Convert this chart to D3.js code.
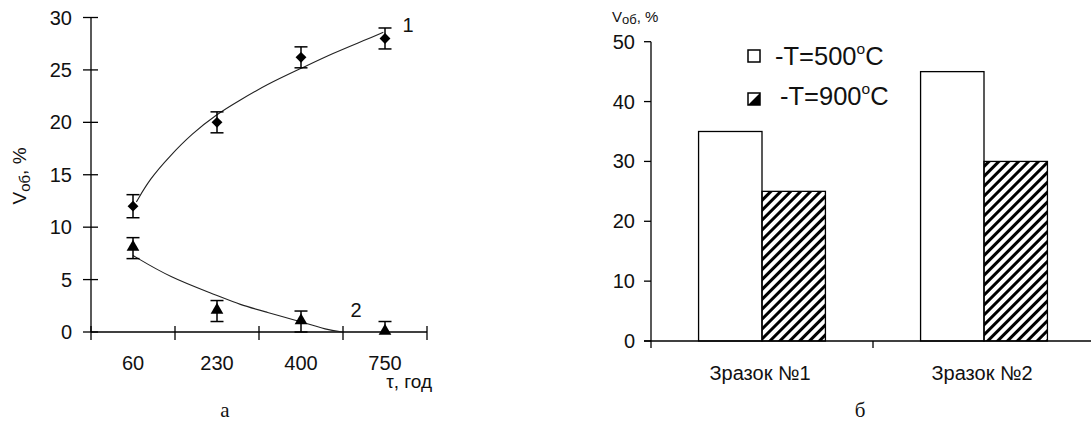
<!DOCTYPE html>
<html>
<head>
<meta charset="utf-8">
<script src="https://cdn.jsdelivr.net/npm/d3@7"></script>
<style>
  html, body { margin: 0; padding: 0; background: #fff; }
  svg { display: block; }
  text { font-family: Arial, "Liberation Sans", sans-serif; fill: #111; }
  .serif { font-family: "Times New Roman", "Liberation Serif", serif; }
</style>
</head>
<body>
<svg id="chart" width="1091" height="426"></svg>
<script>
// ---- Panel (a): volume vs. time ----
const timeLabels = ["60", "230", "400", "750"];
const series1 = [12, 20, 26.2, 28];
const series1Err = [1.1, 1, 1, 1];
const series2 = [8, 2, 1, 0];
const series2Err = [1, 1, 1, 1];
// trend curves (x given as category position, 0 = "60")
const curve1Pos = [0.04, 0.2, 0.44, 0.7, 1.0, 1.27, 1.59, 1.99, 2.38, 2.78, 2.98];
const curve1Val = [12.4, 14.6, 16.8, 18.9, 20.8, 22.1, 23.6, 25.1, 26.6, 27.9, 28.6];
const curve2Pos = [0.0, 0.44, 1.0, 1.27, 1.59, 1.99, 2.31, 2.49];
const curve2Val = [7.3, 5.2, 3.5, 2.6, 1.9, 1.0, 0.2, 0.0];
const leftYTicks = [0, 5, 10, 15, 20, 25, 30];

// ---- Panel (b): volume by sample and temperature ----
const samples = ["Зразок №1", "Зразок №2"];
const temps = ["-T=500", "-T=900"];
const values500 = [35, 45];
const values900 = [25, 30];
const rightYTicks = [0, 10, 20, 30, 40, 50];

const svg = d3.select("#chart");
const defs = svg.append("defs");
defs.append("pattern")
  .attr("id", "hatch")
  .attr("patternUnits", "userSpaceOnUse")
  .attr("width", 7).attr("height", 7)
  .attr("patternTransform", "rotate(45)")
  .append("rect")
  .attr("x", 0).attr("y", 0).attr("width", 3).attr("height", 7)
  .attr("fill", "#000");

// ===================== Panel (a) =====================
const xA = d3.scaleLinear().domain([-0.5, 3.5]).range([91, 427]);
const yA = d3.scaleLinear().domain([0, 30]).range([332, 17.5]);
const gA = svg.append("g");

// axes
gA.append("line").attr("x1", xA(-0.5)).attr("x2", xA(-0.5))
  .attr("y1", yA(30)).attr("y2", yA(0)).attr("stroke", "#000").attr("stroke-width", 1.3);
gA.append("line").attr("x1", xA(-0.5)).attr("x2", xA(3.5))
  .attr("y1", yA(0)).attr("y2", yA(0)).attr("stroke", "#000").attr("stroke-width", 1.3);

gA.selectAll(".ytick").data(leftYTicks).enter().append("line")
  .attr("x1", xA(-0.5) - 8).attr("x2", xA(-0.5) + 7)
  .attr("y1", d => yA(d)).attr("y2", d => yA(d))
  .attr("stroke", "#000").attr("stroke-width", 1.3);
gA.selectAll(".ylab").data(leftYTicks).enter().append("text")
  .attr("x", 72).attr("y", d => yA(d) + 7)
  .attr("text-anchor", "end").attr("font-size", 20)
  .text(d => d);

const xTickPos = [-0.5, 0.5, 1.5, 2.5, 3.5];
gA.selectAll(".xtick").data(xTickPos).enter().append("line")
  .attr("x1", d => xA(d)).attr("x2", d => xA(d))
  .attr("y1", yA(0) - 6).attr("y2", yA(0) + 8)
  .attr("stroke", "#000").attr("stroke-width", 1.3);
gA.selectAll(".xlab").data(timeLabels).enter().append("text")
  .attr("x", (d, i) => xA(i)).attr("y", 370)
  .attr("text-anchor", "middle").attr("font-size", 20)
  .text(d => d);

gA.append("text").attr("x", 432).attr("y", 388).attr("text-anchor", "end")
  .attr("font-size", 19).text("τ, год");

const yTitle = gA.append("text")
  .attr("transform", "translate(26,176) rotate(-90)")
  .attr("text-anchor", "middle").attr("font-size", 19);
yTitle.append("tspan").text("V");
yTitle.append("tspan").attr("font-size", 15).attr("dy", 4).text("об");
yTitle.append("tspan").attr("dy", -4).text(", %");

// trend curves
const lineGen = d3.line().curve(d3.curveBasis)
  .x(d => xA(d[0])).y(d => yA(d[1]));
gA.append("path").attr("d", lineGen(d3.zip(curve1Pos, curve1Val)))
  .attr("fill", "none").attr("stroke", "#222").attr("stroke-width", 1.1);
gA.append("path").attr("d", lineGen(d3.zip(curve2Pos, curve2Val)))
  .attr("fill", "none").attr("stroke", "#222").attr("stroke-width", 1.1);

// error bars
function errorBars(vals, errs) {
  const g = gA.append("g").attr("stroke", "#000").attr("stroke-width", 1.5);
  vals.forEach((v, i) => {
    const lo = Math.max(0, v - errs[i]), hi = v + errs[i];
    const cx = xA(i);
    g.append("line").attr("x1", cx).attr("x2", cx).attr("y1", yA(hi)).attr("y2", yA(lo));
    g.append("line").attr("x1", cx - 6.5).attr("x2", cx + 6.5).attr("y1", yA(hi)).attr("y2", yA(hi));
    if (v - errs[i] >= 0)
      g.append("line").attr("x1", cx - 6.5).attr("x2", cx + 6.5).attr("y1", yA(lo)).attr("y2", yA(lo));
  });
}
errorBars(series1, series1Err);
errorBars(series2, series2Err);

// markers
gA.selectAll(".dia").data(series1).enter().append("path")
  .attr("d", d3.symbol(d3.symbolDiamond2, 75))
  .attr("transform", (d, i) => `translate(${xA(i)},${yA(d)})`)
  .attr("fill", "#000");
gA.selectAll(".tri").data(series2).enter().append("path")
  .attr("d", d3.symbol(d3.symbolTriangle, 70))
  .attr("transform", (d, i) => `translate(${xA(i)},${yA(d) - 1})`)
  .attr("fill", "#000");

gA.append("text").attr("x", 408).attr("y", 32).attr("text-anchor", "middle")
  .attr("font-size", 20).text("1");
gA.append("text").attr("x", 356).attr("y", 317).attr("text-anchor", "middle")
  .attr("font-size", 20).text("2");

svg.append("text").attr("class", "serif").attr("x", 225).attr("y", 417)
  .attr("text-anchor", "middle").attr("font-size", 21).text("а");

// ===================== Panel (b) =====================
const x0 = d3.scaleBand().domain(samples).range([651, 1095]);
const x1 = d3.scaleBand().domain(temps).range([0, x0.bandwidth()]).paddingOuter(0.75);
const yB = d3.scaleLinear().domain([0, 50]).range([341, 41.7]);
const gB = svg.append("g");

const barData = samples.flatMap((s, i) => [
  { s, t: temps[0], v: values500[i] },
  { s, t: temps[1], v: values900[i] }
]);
gB.selectAll(".bar").data(barData).enter().append("rect")
  .attr("x", d => x0(d.s) + x1(d.t))
  .attr("y", d => yB(d.v))
  .attr("width", x1.bandwidth())
  .attr("height", d => yB(0) - yB(d.v))
  .attr("fill", d => d.t === temps[0] ? "#fff" : "url(#hatch)")
  .attr("stroke", "#000").attr("stroke-width", 1.3);

// axes
gB.append("line").attr("x1", 651).attr("x2", 651)
  .attr("y1", yB(50)).attr("y2", yB(0) + 7).attr("stroke", "#000").attr("stroke-width", 1.3);
gB.append("line").attr("x1", 644).attr("x2", 1095)
  .attr("y1", yB(0)).attr("y2", yB(0)).attr("stroke", "#000").attr("stroke-width", 1.3);
gB.selectAll(".ytick").data(rightYTicks).enter().append("line")
  .attr("x1", 644).attr("x2", 651)
  .attr("y1", d => yB(d)).attr("y2", d => yB(d))
  .attr("stroke", "#000").attr("stroke-width", 1.3);
gB.selectAll(".ylab").data(rightYTicks).enter().append("text")
  .attr("x", 635).attr("y", d => yB(d) + 7)
  .attr("text-anchor", "end").attr("font-size", 20)
  .text(d => d);
gB.append("line").attr("x1", x0(samples[1])).attr("x2", x0(samples[1]))
  .attr("y1", yB(0)).attr("y2", yB(0) + 7).attr("stroke", "#000").attr("stroke-width", 1.3);
gB.selectAll(".xlab").data(samples).enter().append("text")
  .attr("x", d => x0(d) + x0.bandwidth() / 2 - 2).attr("y", 380)
  .attr("text-anchor", "middle").attr("font-size", 20)
  .text(d => d);

const yTitleB = gB.append("text").attr("x", 612).attr("y", 22).attr("font-size", 15);
yTitleB.append("tspan").text("V");
yTitleB.append("tspan").attr("font-size", 13).attr("dy", 2).text("об");
yTitleB.append("tspan").attr("dy", -2).text(", %");

// legend
const lg = gB.append("g");
lg.append("rect").attr("x", 748).attr("y", 50).attr("width", 12).attr("height", 12)
  .attr("fill", "#fff").attr("stroke", "#000").attr("stroke-width", 1.5);
lg.append("rect").attr("x", 748).attr("y", 93).attr("width", 12).attr("height", 12)
  .attr("fill", "#fff").attr("stroke", "#000").attr("stroke-width", 1.5);
lg.append("path").attr("d", "M760,93 L760,105 L748,105 Z").attr("fill", "#000");
const legendTemps = ["500", "900"];
legendTemps.forEach((t, i) => {
  const tx = lg.append("text").attr("x", i === 0 ? 775 : 780).attr("y", i === 0 ? 65 : 105)
    .attr("font-size", 25.5);
  tx.append("tspan").text(temps[i].slice(0, 3) + t);
  tx.append("tspan").attr("font-size", 15.5).attr("dy", -11).text("o");
  tx.append("tspan").attr("dy", 11).text("C");
});

svg.append("text").attr("class", "serif").attr("x", 860).attr("y", 417)
  .attr("text-anchor", "middle").attr("font-size", 21).text("б");
</script>
</body>
</html>
